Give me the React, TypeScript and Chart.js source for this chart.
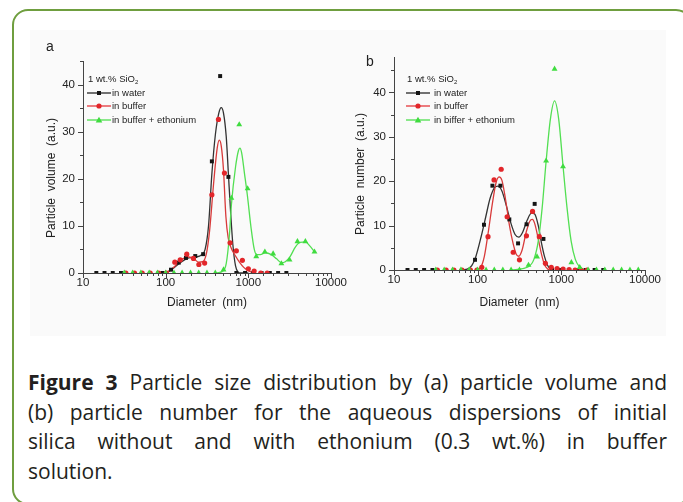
import React, { useEffect, useRef } from "react";
import { Chart, registerables } from "chart.js";

Chart.register(...registerables);

const FONT = '"Liberation Sans", Arial, Helvetica, sans-serif';

// ---------- Panel a : particle volume ----------
const A_WATER_X = [14.5, 18.2, 22.9, 28.8, 91.2, 116, 144, 176, 228, 284, 362, 456, 574, 716, 912, 1148, 1445, 1820, 2291, 2884];
const A_WATER_Y = [0, 0, 0, 0, 0, 0.7, 2.2, 3.2, 3.6, 4.0, 23.7, 41.8, 20.4, 0, 0, 0, 0, 0, 0, 0];
const A_BUFFER_X = [33, 42, 52, 65, 82, 102, 129, 150, 180, 217, 252, 296, 362, 435, 514, 601, 716, 847, 1000, 1175, 1413, 1690];
const A_BUFFER_Y = [0, 0, 0, 0, 0, 0, 2.3, 2.8, 4.0, 3.1, 1.8, 2.1, 16.6, 32.6, 21.2, 6.4, 4.7, 2.7, 0.9, 0.4, 0, 0];
const A_ETH_X = [31.6, 39.8, 50.1, 63.1, 79.4, 100, 126, 158, 200, 251, 316, 398, 501, 624, 776, 980, 1247, 1585, 1995, 2512, 3150, 3928, 4898, 6310];
const A_ETH_Y = [0, 0, 0, 0, 0, 0, 0, 0, 0, 0, 0, 0, 0.7, 15.9, 31.5, 17.9, 3.5, 4.5, 4.1, 2.0, 2.8, 6.7, 6.7, 4.5];

const A_WATER_FIT_X = [80, 100, 120, 150, 190, 230, 270, 300, 330, 362, 400, 440, 470, 500, 540, 574, 610, 650, 700, 750, 800, 1000];
const A_WATER_FIT_Y = [0, 0.1, 0.8, 2.2, 3.2, 3.4, 3.8, 5, 10, 21, 29.5, 34, 35.1, 34, 29, 21, 13, 6, 1.5, 0.2, 0, 0];
const A_BUFFER_FIT_X = [90, 110, 130, 160, 190, 220, 250, 280, 310, 340, 380, 420, 445, 470, 500, 535, 570, 613, 700, 780, 880, 1000, 1150];
const A_BUFFER_FIT_Y = [0, 0.4, 1.5, 3.0, 3.4, 3.0, 2.3, 2.4, 4, 9, 19, 26.5, 28.2, 27, 22, 12, 7.5, 5.5, 3.6, 2.3, 1.2, 0.5, 0];
const A_ETH_FIT_X = [400, 480, 540, 590, 624, 700, 760, 790, 830, 900, 973, 1080, 1180, 1260, 1400, 1600, 1900, 2200, 2500, 2800, 3200, 3700, 4200, 4900, 5500, 6300];
const A_ETH_FIT_Y = [0, 0.3, 2, 8, 14.5, 22.5, 26, 26.5, 25.5, 21, 16.5, 9.5, 5, 3.9, 3.9, 4.3, 3.9, 3.0, 2.2, 2.4, 3.5, 5.5, 6.5, 6.6, 5.8, 4.5];

// ---------- Panel b : particle number ----------
const B_WATER_X = [14.5, 18.2, 22.9, 28.8, 93, 119, 150, 187, 239, 304, 384, 480, 611, 775, 970, 1230, 1550, 1950, 2500, 3170];
const B_WATER_Y = [0, 0, 0, 0, 2.3, 10.2, 19.0, 19.0, 11.4, 6.0, 10.3, 14.9, 7.0, 0, 0, 0, 0, 0, 0, 0];
const B_BUFFER_X = [33, 42, 52, 65, 82, 98, 112, 133, 157, 191, 225, 266, 316, 383, 453, 546, 645, 758, 890, 1050, 1240, 1460, 1720, 2030];
const B_BUFFER_Y = [0, 0, 0, 0, 0, 0, 0.6, 7.5, 20.3, 22.7, 12.0, 4.0, 2.3, 7.7, 13.2, 7.5, 1.5, 0.6, 0.3, 0.2, 0.1, 0, 0, 0];
const B_ETH_X = [31.6, 39.8, 50.1, 63.1, 79.4, 100, 126, 158, 200, 251, 316, 405, 512, 658, 830, 1047, 1318, 1660, 2089, 2630, 3311, 4169, 5248, 6607, 8318];
const B_ETH_Y = [0, 0, 0, 0, 0, 0, 0, 0, 0, 0, 0, 1.1, 3.0, 24.6, 45.3, 23.3, 1.7, 0.6, 0, 0, 0, 0, 0, 0, 0];

const B_WATER_FIT_X = [60, 75, 85, 95, 110, 125, 140, 160, 175, 195, 220, 250, 280, 310, 345, 390, 440, 480, 530, 580, 630, 680, 730, 790];
const B_WATER_FIT_Y = [0, 0.2, 1, 3, 7.5, 12, 16, 18.6, 18.9, 17.8, 14.5, 10.5, 8, 7.4, 8.5, 11.2, 12.8, 12.6, 10, 6, 3, 1.2, 0.3, 0];
const B_BUFFER_FIT_X = [95, 108, 120, 135, 150, 165, 180, 195, 215, 240, 265, 290, 310, 340, 380, 420, 450, 480, 530, 580, 630, 680, 730];
const B_BUFFER_FIT_Y = [0, 0.5, 3, 9, 15, 19.5, 21, 20.2, 16, 10, 6, 3.5, 3.1, 4.5, 8.5, 11, 11.4, 10.5, 7, 3.5, 1.2, 0.3, 0];
const B_ETH_FIT_X = [250, 400, 470, 530, 590, 658, 740, 830, 930, 1047, 1170, 1310, 1470, 1650, 1850];
const B_ETH_FIT_Y = [0, 0.7, 2.4, 6.5, 14, 24.5, 34, 38.1, 34, 23.5, 14, 6.5, 2.4, 0.7, 0];

const LEGEND_TITLE = "1 wt.% SiO";
const LEGEND_A = ["in water", "in buffer", "in buffer + ethonium"];
const LEGEND_B = ["in water", "in buffer", "in biffer + ethonium"];

const CAPTION_BOLD = "Figure 3";
const CAPTION_LINES = [
  " Particle size distribution by (a) particle volume and",
  "(b) particle number for the aqueous dispersions of initial",
  "silica without and with ethonium (0.3 wt.%) in buffer",
  "solution.",
];

const BLACK = "#151515";
const BLACK_LINE = "#333333";
const RED = "#e2262a";
const RED_LINE = "#d83a3a";
const GREEN = "#3fdc3f";
const GREEN_LINE = "#52df52";

const isPow10 = (v: number) => Math.abs(Math.log10(v) - Math.round(Math.log10(v))) < 1e-9;
const pts = (xs: number[], ys: number[]) => xs.map((x, i) => ({ x, y: ys[i] }));

const tickMarks = {
  id: "tickMarks",
  afterDatasetsDraw(chart: any) {
    const { ctx, chartArea } = chart;
    const xs = chart.scales.x;
    const ys = chart.scales.y;
    ctx.save();
    ctx.strokeStyle = "#444";
    ctx.lineWidth = 1;
    ctx.beginPath();
    ys.ticks.forEach((t: any) => {
      if (t.value % 5 !== 0) return;
      const py = Math.round(ys.getPixelForValue(t.value)) + 0.5;
      const len = t.value % 10 === 0 ? 5 : 3;
      ctx.moveTo(chartArea.left - len, py);
      ctx.lineTo(chartArea.left, py);
    });
    xs.ticks.forEach((t: any) => {
      const px = Math.round(xs.getPixelForValue(t.value)) + 0.5;
      const len = isPow10(t.value) ? 5 : 3;
      ctx.moveTo(px, chartArea.bottom);
      ctx.lineTo(px, chartArea.bottom + len);
    });
    ctx.stroke();
    ctx.restore();
  },
};

type Series = { x: number[]; y: number[]; fx: number[]; fy: number[] };
type Panel = {
  water: Series;
  buffer: Series;
  eth: Series;
  ymax: number;
  padTop: number;
  padRight: number;
  yAxisW: number;
  xAxisH: number;
  xTitlePad: number;
};

function makeConfig(p: Panel): any {
  const pointDs = (d: Series, color: string, style: string, r: number, order: number) => ({
    data: pts(d.x, d.y),
    showLine: false,
    pointStyle: style,
    pointRadius: r,
    pointBackgroundColor: color,
    pointBorderColor: color,
    pointBorderWidth: 0,
    order,
  });
  const lineDs = (d: Series, color: string, order: number) => ({
    data: pts(d.fx, d.fy),
    showLine: true,
    borderColor: color,
    borderWidth: 1.3,
    pointRadius: 0,
    cubicInterpolationMode: "monotone",
    fill: false,
    order,
  });
  return {
    type: "scatter",
    data: {
      datasets: [
        pointDs(p.eth, GREEN, "triangle", 3.4, 0),
        pointDs(p.buffer, RED, "circle", 2.6, 1),
        pointDs(p.water, BLACK, "rect", 2.8, 2),
        lineDs(p.eth, GREEN_LINE, 3),
        lineDs(p.buffer, RED_LINE, 4),
        lineDs(p.water, BLACK_LINE, 5),
      ],
    },
    options: {
      animation: false,
      responsive: false,
      maintainAspectRatio: false,
      devicePixelRatio: 1,
      layout: { padding: { top: p.padTop, right: p.padRight, left: 0, bottom: 0 } },
      plugins: { legend: { display: false }, tooltip: { enabled: false } },
      scales: {
        x: {
          type: "logarithmic",
          min: 10,
          max: 10000,
          grid: { display: false, drawTicks: false },
          border: { display: true, color: "#444", width: 1 },
          ticks: {
            autoSkip: false,
            maxRotation: 0,
            padding: 3,
            color: "#222",
            font: { family: FONT, size: 11.5 },
            callback: (v: any) => (isPow10(Number(v)) ? String(Number(v)) : ""),
          },
          title: {
            display: true,
            text: "Diameter  (nm)",
            color: "#222",
            font: { family: FONT, size: 12 },
            padding: { top: 0, bottom: p.xTitlePad },
          },
          afterFit: (s: any) => {
            s.height = p.xAxisH;
          },
        },
        y: {
          type: "linear",
          min: 0,
          max: p.ymax,
          grid: { display: false, drawTicks: false },
          border: { display: true, color: "#444", width: 1 },
          ticks: {
            stepSize: 5,
            padding: 8,
            color: "#222",
            font: { family: FONT, size: 11.5 },
            callback: (v: any) => (Number(v) % 10 === 0 ? String(v) : ""),
          },
          afterFit: (s: any) => {
            s.width = p.yAxisW;
          },
        },
      },
    },
    plugins: [tickMarks],
  };
}

function ChartCanvas({ panel, left, top, width, height }: { panel: Panel; left: number; top: number; width: number; height: number }) {
  const ref = useRef<HTMLCanvasElement | null>(null);
  useEffect(() => {
    if (!ref.current) return;
    const chart = new Chart(ref.current, makeConfig(panel));
    return () => chart.destroy();
  }, [panel]);
  return <canvas ref={ref} width={width} height={height} style={{ position: "absolute", left, top, width, height }} />;
}

function Sym({ color, shape }: { color: string; shape: string }) {
  return (
    <svg width={24} height={8} style={{ position: "absolute", left: 0, top: 0 }}>
      <line x1={0} y1={4} x2={24} y2={4} stroke={color} strokeWidth={1.2} />
      {shape === "sq" && <rect x={10} y={2} width={4} height={4} fill={color} />}
      {shape === "ci" && <circle cx={12} cy={4} r={2.6} fill={color} />}
      {shape === "tr" && <polygon points="12,0.8 15.3,6.6 8.7,6.6" fill={color} />}
    </svg>
  );
}

function Legend({ left, top, labels, textLeft }: { left: number; top: number; labels: string[]; textLeft: number }) {
  const rows = [
    { c: BLACK, s: "sq" },
    { c: RED, s: "ci" },
    { c: GREEN, s: "tr" },
  ];
  const tstyle: React.CSSProperties = { position: "absolute", fontFamily: FONT, fontSize: 9.5, color: "#222", whiteSpace: "nowrap", lineHeight: "11px" };
  return (
    <div style={{ position: "absolute", left, top }}>
      <div style={{ ...tstyle, left: 1, top: 0 }}>
        {LEGEND_TITLE}
        <sub style={{ fontSize: 6, verticalAlign: "-2px" }}>2</sub>
      </div>
      {labels.map((l, i) => (
        <div key={i} style={{ position: "absolute", left: 0, top: 14 + i * 13.3 }}>
          <div style={{ position: "absolute", left: 0, top: 2, width: 24, height: 8 }}>
            <Sym color={rows[i].c} shape={rows[i].s} />
          </div>
          <div style={{ ...tstyle, left: textLeft, top: 0 }}>{l}</div>
        </div>
      ))}
    </div>
  );
}

function YTitle({ text, cx, cy }: { text: string; cx: number; cy: number }) {
  const w = 200;
  const h = 16;
  return (
    <div
      style={{
        position: "absolute",
        left: cx - w / 2,
        top: cy - h / 2,
        width: w,
        height: h,
        lineHeight: `${h}px`,
        textAlign: "center",
        transform: "rotate(-90deg)",
        fontFamily: FONT,
        fontSize: 12,
        color: "#222",
        whiteSpace: "pre",
      }}
    >
      {text}
    </div>
  );
}

const PANEL_A: Panel = {
  water: { x: A_WATER_X, y: A_WATER_Y, fx: A_WATER_FIT_X, fy: A_WATER_FIT_Y },
  buffer: { x: A_BUFFER_X, y: A_BUFFER_Y, fx: A_BUFFER_FIT_X, fy: A_BUFFER_FIT_Y },
  eth: { x: A_ETH_X, y: A_ETH_Y, fx: A_ETH_FIT_X, fy: A_ETH_FIT_Y },
  ymax: 45,
  padTop: 25,
  padRight: 18,
  yAxisW: 55,
  xAxisH: 53,
  xTitlePad: 16,
};

const PANEL_B: Panel = {
  water: { x: B_WATER_X, y: B_WATER_Y, fx: B_WATER_FIT_X, fy: B_WATER_FIT_Y },
  buffer: { x: B_BUFFER_X, y: B_BUFFER_Y, fx: B_BUFFER_FIT_X, fy: B_BUFFER_FIT_Y },
  eth: { x: B_ETH_X, y: B_ETH_Y, fx: B_ETH_FIT_X, fy: B_ETH_FIT_Y },
  ymax: 48,
  padTop: 21,
  padRight: 25,
  yAxisW: 54,
  xAxisH: 56,
  xTitlePad: 16,
};

export default function App() {
  const capFont = '"Open Sans", "Noto Sans", sans-serif';
  return (
    <div style={{ position: "fixed", left: 0, top: 0, width: 683, height: 502, background: "#fff", overflow: "hidden" }}>
      <div
        style={{
          position: "absolute",
          left: 12,
          top: 9,
          width: 680,
          height: 496,
          border: "2px solid #6f9e3f",
          borderRadius: 16,
          boxSizing: "border-box",
        }}
      />
      <div style={{ position: "absolute", left: 30, top: 30, width: 636, height: 306, background: "#fafafa" }} />
      <ChartCanvas panel={PANEL_A} left={28} top={36} width={322} height={290} />
      <ChartCanvas panel={PANEL_B} left={340} top={36} width={330} height={290} />
      <div style={{ position: "absolute", left: 46, top: 38, fontFamily: FONT, fontSize: 14, color: "#222" }}>a</div>
      <div style={{ position: "absolute", left: 366, top: 53, fontFamily: FONT, fontSize: 14, color: "#222" }}>b</div>
      <YTitle text="Particle  volume  (a.u.)" cx={51} cy={178} />
      <YTitle text="Particle  number  (a.u.)" cx={360} cy={174} />
      <Legend left={87} top={73} labels={LEGEND_A} textLeft={25} />
      <Legend left={406} top={73} labels={LEGEND_B} textLeft={28} />
      <div style={{ position: "absolute", left: 28, top: 368, width: 639, fontFamily: capFont, fontSize: 21, lineHeight: "29.5px", color: "#231f20" }}>
        {CAPTION_LINES.map((line, i) => (
          <div
            key={i}
            style={{
              textAlign: i < 3 ? "justify" : "left",
              textAlignLast: i < 3 ? "justify" : "left",
              whiteSpace: "normal",
            }}
          >
            {i === 0 && <b>{CAPTION_BOLD}</b>}
            {line}
          </div>
        ))}
      </div>
    </div>
  );
}
